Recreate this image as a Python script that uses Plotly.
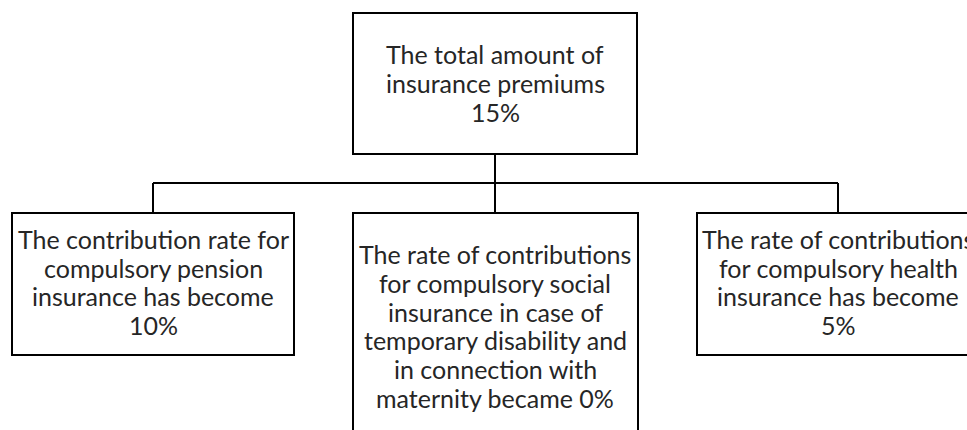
import plotly.graph_objects as go

# Diagram content
box_labels = [
    "The total amount of<br>insurance premiums<br>15%",
    "The contribution rate for<br>compulsory pension<br>insurance has become<br>10%",
    "The rate of contributions<br>for compulsory social<br>insurance in case of<br>temporary disability and<br>in connection with<br>maternity became 0%",
    "The rate of contributions<br>for compulsory health<br>insurance has become<br>5%",
]
# box geometry in pixel space: (x0, y0, x1, y1)
box_x0 = [353, 12, 353, 697]
box_y0 = [13, 213, 213, 213]
box_x1 = [637, 294, 638, 979]
box_y1 = [154, 355, 440, 355]
box_cx = [495, 153, 495, 838]
text_cy = [83, 282, 326, 282]
line_gap = 28.7

W, H = 967, 430
fig = go.Figure()
fig.add_trace(go.Scatter(x=[100], y=[100], mode="markers", marker=dict(opacity=0), showlegend=False, hoverinfo="skip"))

line_col = "#000000"
shapes = []
for x0, y0, x1, y1 in zip(box_x0, box_y0, box_x1, box_y1):
    shapes.append(dict(type="rect", xref="x", yref="y", x0=x0, y0=y0, x1=x1, y1=y1,
                       line=dict(color=line_col, width=2), fillcolor="white", layer="below"))

bar_y = 183
shapes.append(dict(type="line", xref="x", yref="y", x0=box_cx[0], y0=box_y1[0], x1=box_cx[0], y1=bar_y,
                   line=dict(color=line_col, width=2)))
shapes.append(dict(type="line", xref="x", yref="y", x0=box_cx[1], y0=bar_y, x1=box_cx[3], y1=bar_y,
                   line=dict(color=line_col, width=2)))
for cx in box_cx[1:]:
    shapes.append(dict(type="line", xref="x", yref="y", x0=cx, y0=bar_y, x1=cx, y1=213,
                       line=dict(color=line_col, width=2)))

annotations = []
for i, lab in enumerate(box_labels):
    lines = lab.split("<br>")
    n = len(lines)
    for j, ln in enumerate(lines):
        y = text_cy[i] + (j - (n - 1) / 2) * line_gap
        annotations.append(dict(x=box_cx[i], y=y, xref="x", yref="y", text=ln, showarrow=False,
                                xanchor="center", yanchor="middle",
                                font=dict(family="Lato", size=25, color="#262626")))

fig.update_layout(
    width=W, height=H, margin=dict(l=0, r=0, t=0, b=0),
    paper_bgcolor="white", plot_bgcolor="white",
    xaxis=dict(range=[0, W], visible=False, fixedrange=True),
    yaxis=dict(range=[H, 0], visible=False, fixedrange=True),
    shapes=shapes, annotations=annotations, showlegend=False,
)
fig.write_html(
    "out.html",
    config={"displayModeBar": False},
    post_script="document.body.style.margin='0';document.body.style.overflow='hidden';",
)
